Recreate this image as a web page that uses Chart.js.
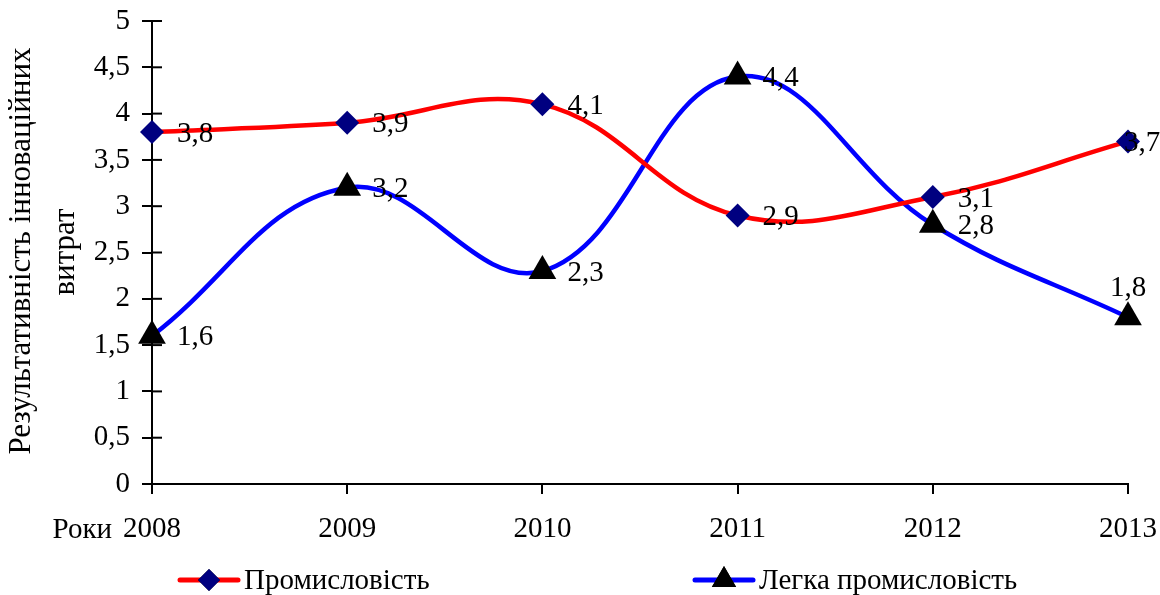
<!DOCTYPE html>
<html>
<head>
<meta charset="utf-8">
<script src="https://cdn.jsdelivr.net/npm/chart.js@4.4.1/dist/chart.umd.min.js"></script>
<style>
  html, body { margin: 0; padding: 0; background: #fff; }
  #wrap { width: 1160px; height: 595px; }
</style>
</head>
<body>
<div id="wrap"><canvas id="chart"></canvas></div>
<script>
// Values
const years = ['2008', '2009', '2010', '2011', '2012', '2013'];
const industry = [3.8, 3.9, 4.1, 2.9, 3.1, 3.7];
const lightIndustry = [1.6, 3.2, 2.3, 4.4, 2.8, 1.8];
const seriesNames = ['Промисловість', 'Легка промисловість'];
const yTitle = ['Результативність інноваційних', 'витрат'];
const xLabel = 'Роки';

const FONT = '"Liberation Serif", "Times New Roman", serif';
const fmt = v => String(v).replace('.', ',');

// data labels, y-axis title, inner tick halves and the legend
const extras = {
    id: 'extras',
    afterDraw(chart) {
        const ctx = chart.ctx;
        const y = chart.scales.y, x = chart.scales.x;
        ctx.save();
        ctx.strokeStyle = '#000';
        ctx.lineWidth = 2;
        y.ticks.forEach(t => {
            const py = y.getPixelForValue(t.value);
            ctx.beginPath();
            ctx.moveTo(y.right, py);
            ctx.lineTo(y.right + 10, py);
            ctx.stroke();
        });

        ctx.fillStyle = '#000';
        ctx.font = '29px ' + FONT;
        ctx.textBaseline = 'middle';
        chart.data.datasets.forEach((ds, di) => {
            const meta = chart.getDatasetMeta(di);
            meta.data.forEach((pt, i) => {
                const last = i === ds.data.length - 1;
                if (di === 1 && last) {
                    ctx.textAlign = 'center';
                    ctx.fillText(fmt(ds.data[i]), pt.x, pt.y - 29);
                } else {
                    ctx.textAlign = 'left';
                    ctx.fillText(fmt(ds.data[i]), pt.x + (last ? -4 : 25), pt.y + 2);
                }
            });
        });

        // "Роки" before the first year label
        ctx.textAlign = 'right';
        ctx.fillText(xLabel, x.getPixelForValue(0) - 40, 530);

        // rotated axis title
        ctx.save();
        ctx.rotate(-Math.PI / 2);
        ctx.textAlign = 'center';
        ctx.font = '31px ' + FONT;
        ctx.fillText(yTitle[0], -251, 22);
        ctx.fillText(yTitle[1], -252, 66);
        ctx.restore();

        // legend: line + marker + name
        const items = [{ x0: 180, ds: chart.data.datasets[0] }, { x0: 695, ds: chart.data.datasets[1] }];
        const ly = 580;
        items.forEach(it => {
            ctx.strokeStyle = it.ds.borderColor;
            ctx.lineWidth = 5;
            ctx.lineCap = 'round';
            ctx.beginPath();
            ctx.moveTo(it.x0, ly);
            ctx.lineTo(it.x0 + 58, ly);
            ctx.stroke();
            Chart.helpers.drawPoint(ctx, {
                pointStyle: it.ds.pointStyle,
                radius: it.ds.pointStyle === 'triangle' ? 14 : 11,
                borderWidth: 0
            }, it.x0 + 29, ly);
            ctx.fillStyle = it.ds.pointBackgroundColor;
            ctx.fill();
            ctx.fillStyle = '#000';
            ctx.font = '29px ' + FONT;
            ctx.textAlign = 'left';
            ctx.fillText(it.ds.label, it.x0 + 64, ly + 1);
        });
        ctx.restore();
    }
};

new Chart(document.getElementById('chart'), {
    type: 'line',
    data: {
        labels: years,
        datasets: [{
            label: seriesNames[0],
            data: industry,
            borderColor: '#ff0000',
            borderWidth: 4.5,
            tension: 0.4,
            pointStyle: 'rectRot',
            pointRadius: 12,
            pointBackgroundColor: '#000080',
            pointBorderWidth: 0
        }, {
            label: seriesNames[1],
            data: lightIndustry,
            borderColor: '#0000ff',
            borderWidth: 4.5,
            tension: 0.4,
            pointStyle: 'triangle',
            pointRadius: 16,
            pointBackgroundColor: '#000000',
            pointBorderWidth: 0
        }]
    },
    options: {
        responsive: true,
        maintainAspectRatio: false,
        animation: false,
        layout: { padding: { left: 10, right: 32, top: 21, bottom: 51 } },
        plugins: {
            legend: { display: false },
            tooltip: { enabled: false }
        },
        scales: {
            x: {
                offset: false,
                afterFit: s => { s.height = 60; s.paddingLeft = 0; s.paddingRight = 0; },
                border: { color: '#000', width: 2 },
                grid: { drawOnChartArea: false, color: '#000', lineWidth: 2, tickLength: 10 },
                ticks: { color: '#000', padding: 18, maxRotation: 0, font: { family: FONT, size: 29 } }
            },
            y: {
                min: 0,
                max: 5,
                afterFit: s => { s.width = 142; s.paddingTop = 0; s.paddingBottom = 0; },
                border: { color: '#000', width: 2 },
                grid: { drawOnChartArea: false, color: '#000', lineWidth: 2, tickLength: 10 },
                ticks: {
                    stepSize: 0.5,
                    color: '#000',
                    padding: 12,
                    font: { family: FONT, size: 29 },
                    callback: v => fmt(v)
                }
            }
        }
    },
    plugins: [extras]
});
</script>
</body>
</html>
